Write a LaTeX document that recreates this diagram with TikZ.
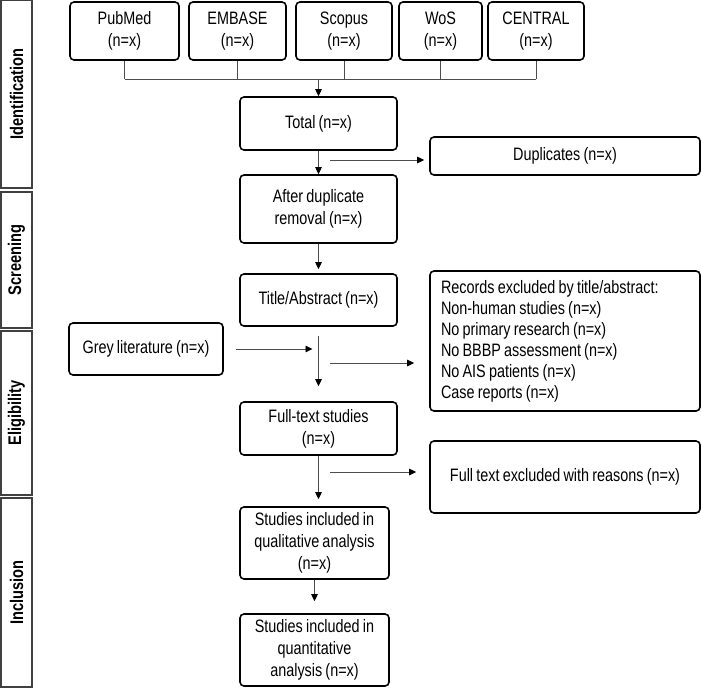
\documentclass[tikz,border=0pt]{standalone}
\usepackage{fontspec}
\setmainfont{Liberation Sans}[FakeStretch=0.8, WordSpace=0.8]
\usetikzlibrary{arrows.meta}

\begin{document}
\begin{tikzpicture}[x=1pt,y=-1pt,
		box/.style={draw=black, line width=1.6pt, rounded corners=4pt, align=center, inner sep=2pt, font=\fontsize{18}{22}\selectfont},
		phase/.style={draw=black!75, line width=2pt, rotate=90, minimum height=31pt, inner sep=0pt, font=\fontsize{18.3}{20}\selectfont\bfseries},
		link/.style={draw=black!70, line width=0.9pt},
		arr/.style={link, -{Triangle[length=7pt,width=6.5pt,black]}}]
		\useasboundingbox (0,0) rectangle (701,688);

		% phases
		\node[phase, minimum width=188pt] (ident) at (16.5,94) {Identification};
		\node[phase, minimum width=136pt] (screen) at (16.5,260) {Screening};
		\node[phase, minimum width=164pt] (elig) at (16.5,413) {Eligibility};
		\node[phase, minimum width=189pt] (incl) at (16.5,592.5) {Inclusion};

		% databases
		\node[box, minimum width=109pt, minimum height=58pt] (pubmed) at (124.5,31) {PubMed\\(n=x)};
		\node[box, minimum width=97pt, minimum height=58pt] (embase) at (237.5,31) {EMBASE\\(n=x)};
		\node[box, minimum width=96pt, minimum height=58pt] (scopus) at (344,31) {Scopus\\(n=x)};
		\node[box, minimum width=83pt, minimum height=58pt] (wos) at (440.5,31) {WoS\\(n=x)};
		\node[box, minimum width=96pt, minimum height=58pt] (central) at (536,31) {CENTRAL\\(n=x)};

		% main column
		\node[box, minimum width=157pt, minimum height=53pt] (total) at (318.5,123.5) {Total (n=x)};
		\node[box, minimum width=157pt, minimum height=68pt] (after) at (318.5,209) {After duplicate\\removal (n=x)};
		\node[box, minimum width=157pt, minimum height=52pt] (title) at (318.5,300) {Title/Abstract (n=x)};
		\node[box, minimum width=157pt, minimum height=53pt] (fulltext) at (318.5,428.5) {Full-text studies\\(n=x)};
		\node[box, minimum width=149pt, minimum height=72pt] (qual) at (314.5,543) {Studies included in\\qualitative analysis\\(n=x)};
		\node[box, minimum width=149pt, minimum height=72pt] (quant) at (314.5,650) {Studies included in\\quantitative\\analysis (n=x)};

		% side boxes
		\node[box, minimum width=154pt, minimum height=52pt] (grey) at (146,349) {Grey literature (n=x)};
		\node[box, minimum width=270pt, minimum height=38pt] (dups) at (565,156) {Duplicates (n=x)};
		\node[box, minimum width=270pt, minimum height=140pt, align=left, text width=248pt, font=\fontsize{18}{21}\selectfont] (records) at (565,341) {\spaceskip=0pt\xspaceskip=0pt Records excluded by title/abstract:\\Non-human studies (n=x)\\No primary research (n=x)\\No BBBP assessment (n=x)\\No AIS patients (n=x)\\Case reports (n=x)};
		\node[box, minimum width=270pt, minimum height=72pt] (ftexcl) at (565,477) {Full text excluded with reasons (n=x)};

		% connectors
		\coordinate (bus) at (318.5,79);
		\foreach \db in {pubmed,embase,scopus,wos,central}
			\draw[link] (\db.south) -- (\db.south |- bus);
		\draw[link] (pubmed.south |- bus) -- (central.south |- bus);
		\draw[arr] (bus) -- (total.north);

		\draw[arr] (total) -- (after);
		\draw[arr, shorten >=4pt] (after) -- (title);
		\draw[arr, shorten <=9pt, shorten >=15pt] (title) -- (fulltext);
		\draw[arr, shorten >=7pt] (fulltext) -- (qual.north -| fulltext);
		\draw[arr, shorten >=12pt] (qual) -- (quant);

		\coordinate (dupsfrom) at (330,160);
		\coordinate (recfrom) at (330,363);
		\coordinate (ftfrom) at (330,472);
		\draw[arr, shorten <=12pt, shorten >=6pt] (grey.east) -- (grey.east -| title.south);
		\draw[arr, shorten >=5pt] (dupsfrom) -- (dupsfrom -| dups.west);
		\draw[arr, shorten >=15pt] (recfrom) -- (recfrom -| records.west);
		\draw[arr, shorten >=13pt] (ftfrom) -- (ftfrom -| ftexcl.west);
\end{tikzpicture}
\end{document}
